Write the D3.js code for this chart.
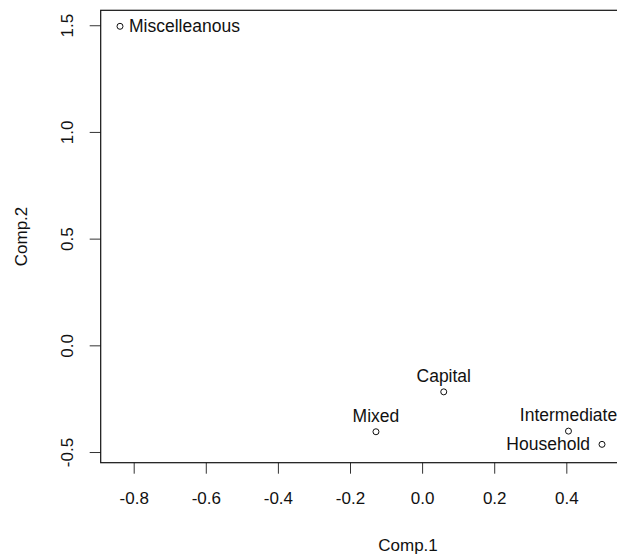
<!DOCTYPE html>
<html>
<head>
<meta charset="utf-8">
<script src="https://cdn.jsdelivr.net/npm/d3@7"></script>
<style>
    body { margin: 0; background: #fff; }
    svg text { font-family: "Liberation Sans", Arial, sans-serif; fill: #111; }
</style>
</head>
<body>
<svg width="617" height="554"></svg>
<script>
// PCA scores (Comp.1, Comp.2) per sector
const sectors = ["Miscelleanous", "Capital", "Mixed", "Intermediate", "Household"];
const comp1   = [-0.838, 0.060, -0.128, 0.406, 0.499];
const comp2   = [1.495, -0.218, -0.405, -0.402, -0.464];
// where the label sits relative to the point (R's pos: 2 left, 3 above, 4 right)
const labelPos = [4, 3, 3, 3, 2];

const xTicks = [-0.8, -0.6, -0.4, -0.2, 0.0, 0.2, 0.4];
const yTicks = [-0.5, 0.0, 0.5, 1.0, 1.5];

const points = sectors.map((name, i) => ({
    "name": name,
    "x":    comp1[i],
    "y":    comp2[i],
    "pos":  labelPos[i],
}));

const svg = d3.select("svg");

// the original plot was wider, its right edge is cut off at the image border
const box = { left: 100.7, right: 621.3, top: 10.3, bottom: 462.7 };

const x = d3.scaleLinear()
    .domain([-0.8915, 0.5525])
    .range([box.left, box.right]);

const y = d3.scaleLinear()
    .domain([-0.55, 1.57])
    .range([box.bottom, box.top]);

// plain hyphen like R, not the unicode minus d3.format gives
const fmt = d => d.toFixed(1);

// x axis
svg.append("g")
    .attr("transform", "translate(0," + box.bottom + ")")
    .call(d3.axisBottom(x).tickValues(xTicks).tickFormat(fmt).tickSize(11).tickPadding(18))
    .call(g => g.select(".domain").remove())
    .call(g => g.selectAll("line").attr("stroke", "#333"))
    .call(g => g.selectAll("text").attr("font-size", 17).attr("font-family", "Liberation Sans, Arial, sans-serif").attr("fill", "#111"));

// y axis, labels turned like R's las=0
const yAxis = svg.append("g")
    .attr("transform", "translate(" + box.left + ",0)")
    .call(d3.axisLeft(y).tickValues(yTicks).tickFormat(fmt).tickSize(11))
    .call(g => g.select(".domain").remove())
    .call(g => g.selectAll("line").attr("stroke", "#333"));

yAxis.selectAll("text")
    .attr("font-size", 17)
    .attr("font-family", "Liberation Sans, Arial, sans-serif")
    .attr("fill", "#111")
    .attr("x", null)
    .attr("dy", null)
    .attr("text-anchor", "middle")
    .attr("transform", "translate(-28,0) rotate(-90)");

// plot frame
svg.append("rect")
    .attr("x", box.left)
    .attr("y", box.top)
    .attr("width", box.right - box.left)
    .attr("height", box.bottom - box.top)
    .attr("fill", "none")
    .attr("stroke", "#111")
    .attr("stroke-width", 1.2);

// axis titles
svg.append("text")
    .attr("x", 408)
    .attr("y", 551)
    .attr("text-anchor", "middle")
    .attr("font-size", 17)
    .text("Comp.1");

svg.append("text")
    .attr("transform", "translate(27," + (box.top + box.bottom) / 2 + ") rotate(-90)")
    .attr("text-anchor", "middle")
    .attr("font-size", 17)
    .text("Comp.2");

// points
const node = svg.append("g")
    .selectAll("g")
    .data(points)
    .enter().append("g")
        .attr("transform", d => "translate(" + x(d.x) + "," + y(d.y) + ")");

node.append("circle")
    .attr("r", 3)
    .attr("fill", "none")
    .attr("stroke", "#111")
    .attr("stroke-width", 1);

node.append("text")
    .attr("font-size", 17.5)
    .attr("text-anchor", d => d.pos === 3 ? "middle" : (d.pos === 2 ? "end" : "start"))
    .attr("x", d => d.pos === 4 ? 9 : (d.pos === 2 ? -12 : 0))
    .attr("y", d => d.pos === 3 ? -10 : 0)
    .attr("dy", d => d.pos === 3 ? 0 : "0.35em")
    .text(d => d.name);
</script>
</body>
</html>
